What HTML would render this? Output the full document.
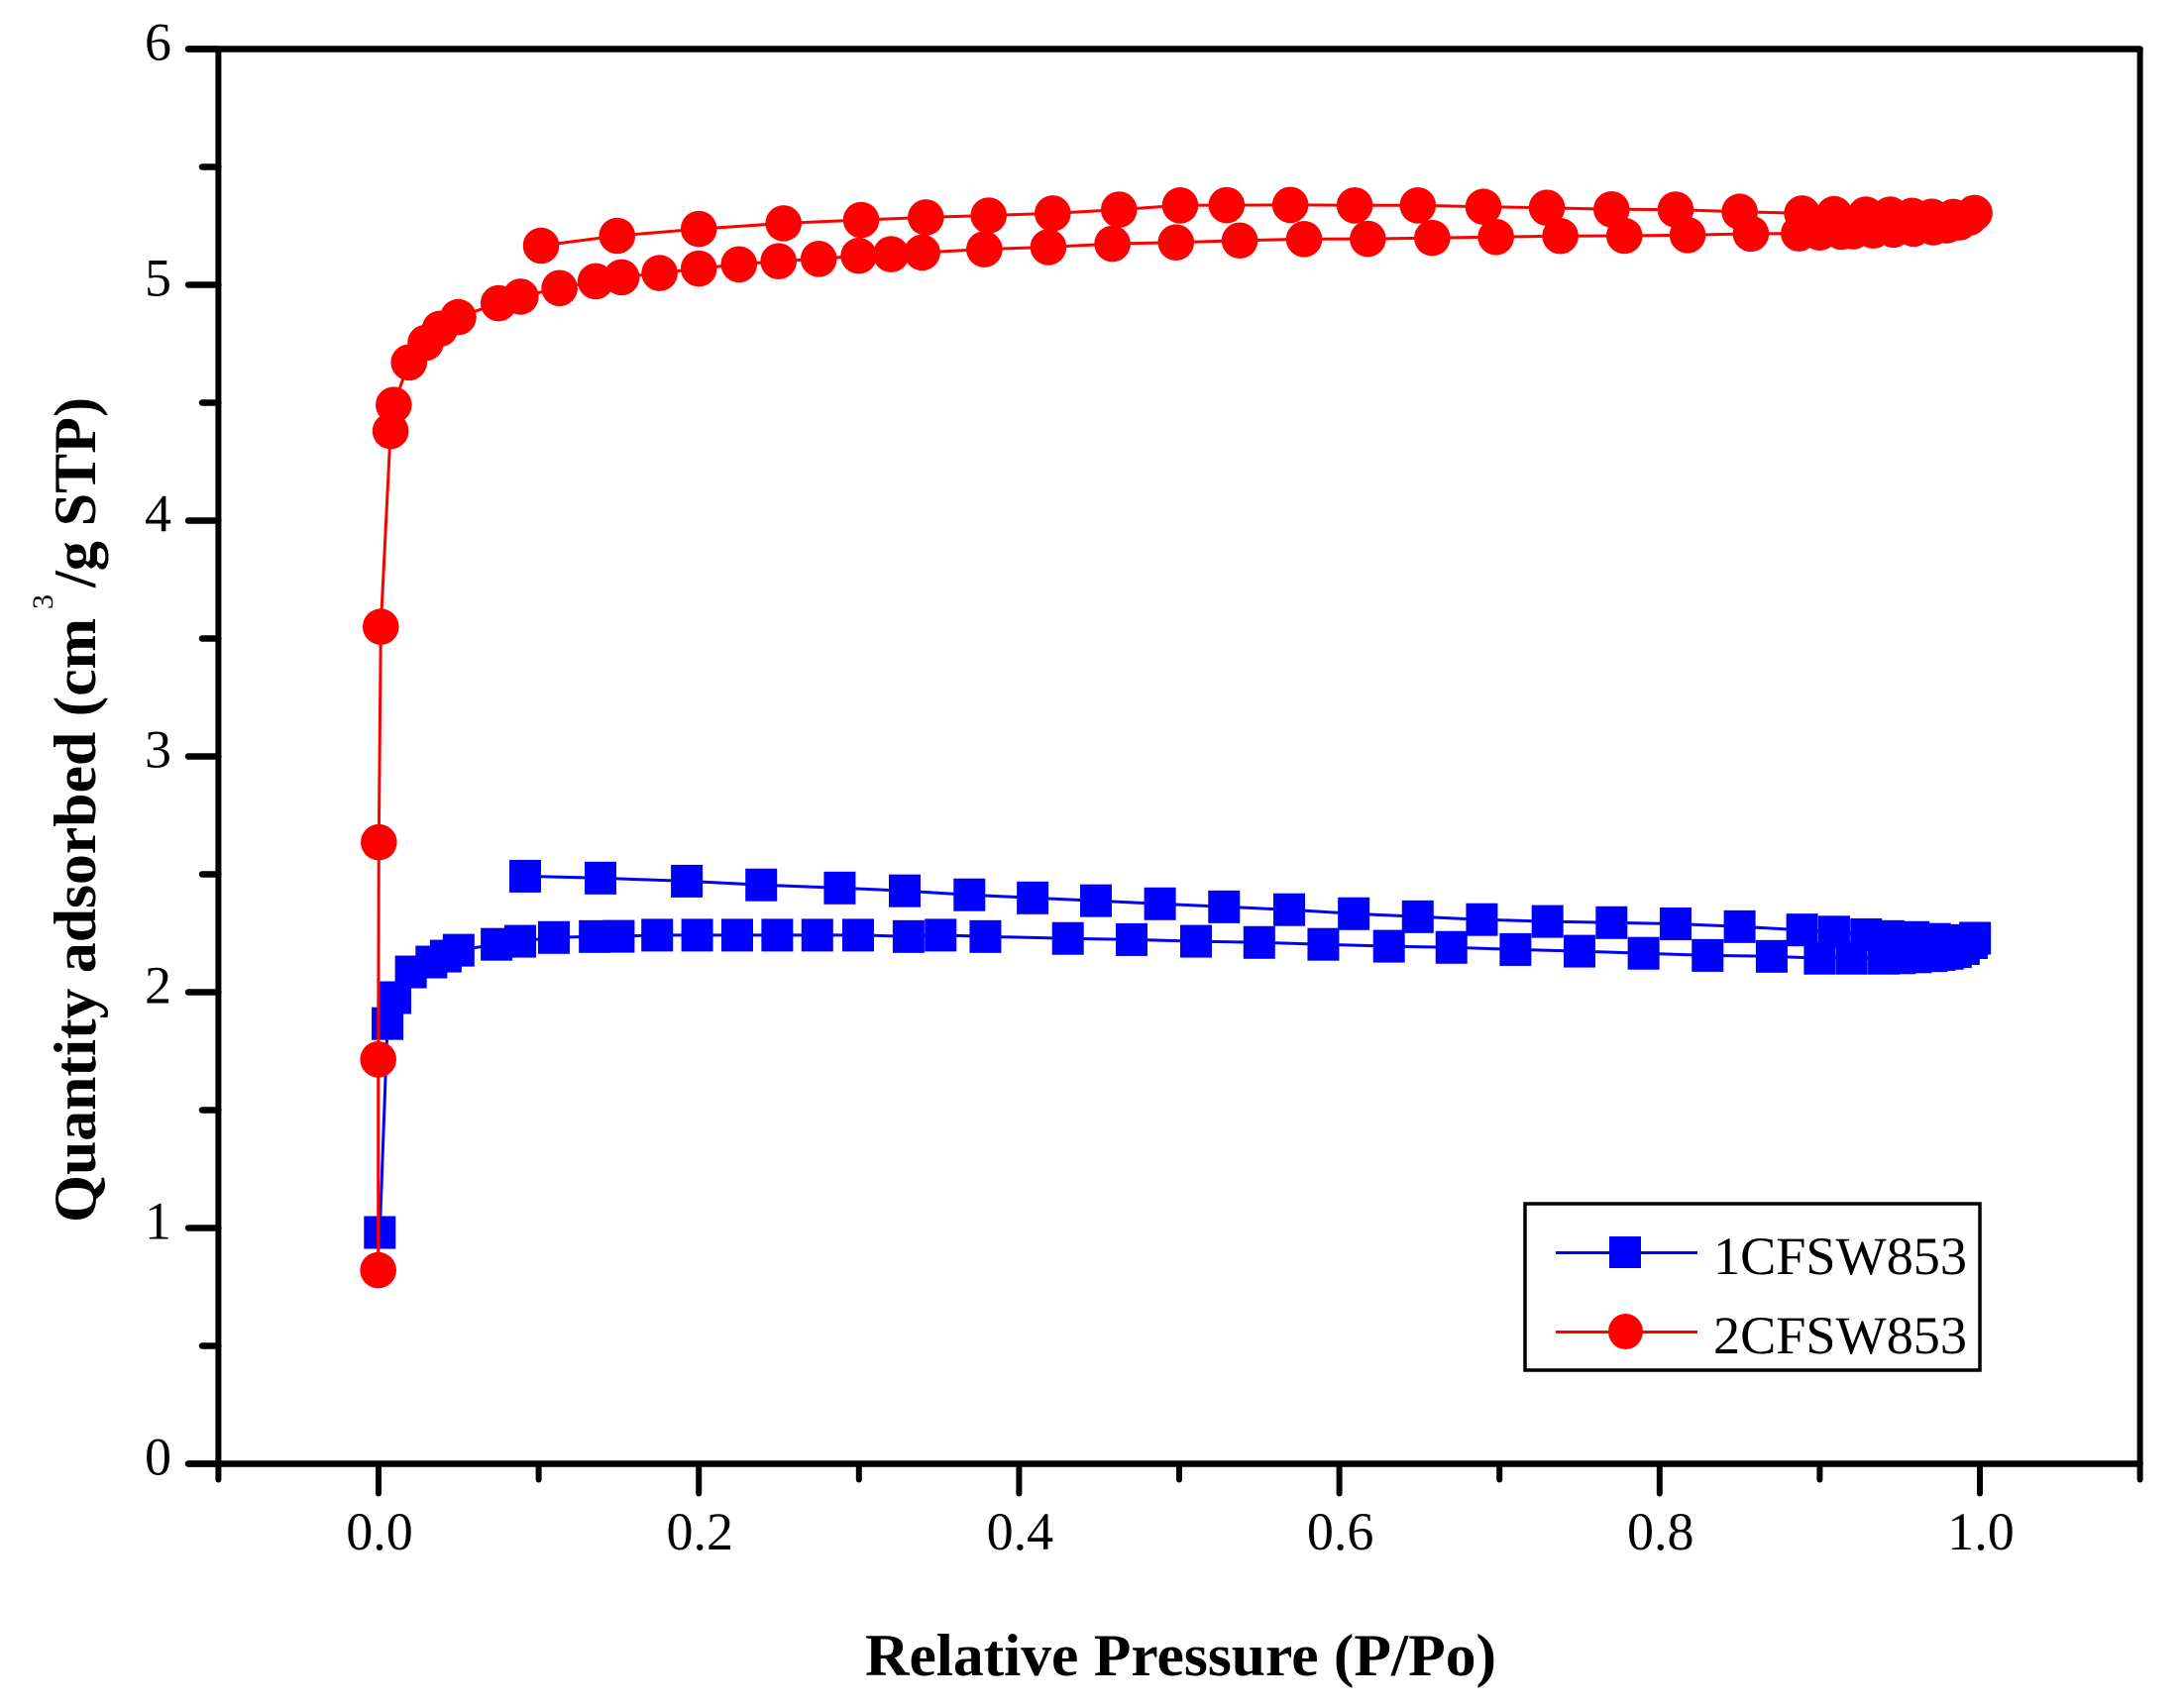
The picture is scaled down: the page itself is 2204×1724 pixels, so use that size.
<!DOCTYPE html>
<html lang="en">
<head>
<meta charset="utf-8">
<title>Quantity adsorbed vs relative pressure</title>
<style>
html,body{margin:0;padding:0;background:#fff;}
svg{display:block;font-family:"Liberation Serif",serif;}
</style>
</head>
<body>
<svg id="chart" xmlns="http://www.w3.org/2000/svg" width="2204" height="1724" viewBox="0 0 2204 1724">
  <rect x="0" y="0" width="2204" height="1724" fill="#fff"/>
  <g id="series-layer"></g>
  <g id="axis-layer"></g>
  <text x="873" y="1691" font-size="60" font-weight="bold" textLength="637" lengthAdjust="spacingAndGlyphs">Relative Pressure (P/Po)</text>
  <g font-weight="bold">
    <text transform="translate(96,1234) rotate(-90)" font-size="60" textLength="610" lengthAdjust="spacingAndGlyphs">Quantity adsorbed (cm</text>
    <text transform="translate(53,615) rotate(-90)" font-size="30" font-weight="normal">3</text>
    <text transform="translate(96,593) rotate(-90)" font-size="60" textLength="192" lengthAdjust="spacingAndGlyphs">/g STP)</text>
  </g>
  <g>
    <rect x="1539" y="1215" width="459" height="168" fill="#fff" stroke="#000" stroke-width="3.5"/>
    <g>
      <line x1="1570" y1="1264.5" x2="1713" y2="1264.5" stroke="#00f" stroke-width="3"/>
      <rect x="1624" y="1248" width="32" height="32" fill="#00f"/>
      <text x="1729" y="1286" font-size="54" textLength="256" lengthAdjust="spacingAndGlyphs">1CFSW853</text>
    </g>
    <g>
      <line x1="1570" y1="1344.5" x2="1713" y2="1344.5" stroke="#f00" stroke-width="3"/>
      <ellipse cx="1640.5" cy="1344" rx="17.5" ry="18" fill="#f00"/>
      <text x="1729" y="1366" font-size="54" textLength="256" lengthAdjust="spacingAndGlyphs">2CFSW853</text>
    </g>
  </g>
</svg>
<script>
const xMajorTicks = [0, 0.2, 0.4, 0.6, 0.8, 1.0];
const xMinorTicks = [-0.1, 0.1, 0.3, 0.5, 0.7, 0.9, 1.1];
const xTickLabels = ["0.0", "0.2", "0.4", "0.6", "0.8", "1.0"];
const yMajorTicks = [0, 1, 2, 3, 4, 5, 6];
const yMinorTicks = [0.5, 1.5, 2.5, 3.5, 4.5, 5.5];
const yTickLabels = ["0", "1", "2", "3", "4", "5", "6"];

const pressure1 = [0.0008,0.0056,0.0105,0.0202,0.033,0.042,0.05,0.0737,0.0885,0.1095,0.135,0.15,0.174,0.199,0.224,0.249,0.274,0.2995,0.331,0.351,0.379,0.4305,0.4703,0.5105,0.55,0.59,0.631,0.67,0.71,0.75,0.79,0.83,0.87,0.90,0.92,0.94,0.95,0.96,0.97,0.975,0.98,0.985,0.99,0.995,0.997,0.982,0.972,0.9586,0.943,0.929,0.909,0.889,0.85,0.81,0.77,0.73,0.689,0.649,0.609,0.5687,0.528,0.488,0.448,0.4085,0.369,0.3286,0.288,0.239,0.1925,0.1386,0.0916];
const quantity1 = [0.981,1.867,1.977,2.086,2.128,2.153,2.178,2.203,2.216,2.232,2.236,2.237,2.242,2.242,2.242,2.242,2.242,2.242,2.236,2.242,2.236,2.228,2.223,2.216,2.211,2.203,2.195,2.19,2.181,2.174,2.165,2.156,2.152,2.144,2.144,2.144,2.146,2.15,2.155,2.16,2.165,2.172,2.185,2.21,2.229,2.219,2.224,2.232,2.236,2.244,2.255,2.264,2.278,2.29,2.295,2.30,2.308,2.32,2.333,2.35,2.362,2.375,2.388,2.40,2.413,2.43,2.442,2.455,2.471,2.484,2.492];

const pressure2 = [-0.0002,-0.0002,0.0002,0.0014,0.0075,0.0095,0.019,0.0294,0.0384,0.0498,0.075,0.0887,0.113,0.1356,0.1517,0.1755,0.2,0.2251,0.2498,0.2749,0.2999,0.3201,0.3395,0.3783,0.4183,0.4583,0.498,0.5378,0.578,0.6178,0.658,0.6978,0.738,0.778,0.8175,0.857,0.887,0.90,0.9135,0.921,0.9335,0.946,0.9586,0.971,0.9793,0.9873,0.9933,0.9966,0.9834,0.97,0.9577,0.944,0.9288,0.909,0.889,0.85,0.81,0.77,0.7296,0.69,0.649,0.6096,0.5694,0.5296,0.5006,0.4624,0.421,0.381,0.3418,0.3014,0.2529,0.2,0.149,0.1015];
const quantity2 = [0.821,1.715,2.636,3.55,4.38,4.491,4.671,4.754,4.814,4.863,4.922,4.95,4.986,5.015,5.032,5.05,5.069,5.087,5.10,5.11,5.123,5.13,5.137,5.151,5.16,5.174,5.18,5.188,5.194,5.195,5.199,5.203,5.207,5.208,5.211,5.217,5.218,5.222,5.225,5.227,5.23,5.234,5.238,5.244,5.252,5.265,5.285,5.305,5.288,5.289,5.293,5.298,5.298,5.30,5.303,5.31,5.319,5.32,5.327,5.331,5.337,5.337,5.339,5.338,5.337,5.319,5.303,5.294,5.286,5.275,5.261,5.237,5.208,5.166];

const SVG_NS = "http://www.w3.org/2000/svg";
function xScale(v) { return 382 + 1616 * v; }
function yScale(v) { return 1477.5 - 238 * v; }

function make(tag, attrs, parent) {
  const el = document.createElementNS(SVG_NS, tag);
  Object.keys(attrs).forEach(function (k) { el.setAttribute(k, attrs[k]); });
  parent.appendChild(el);
  return el;
}

const axisLayer = document.getElementById("axis-layer");
const seriesLayer = document.getElementById("series-layer");

function axisLine(x1, y1, x2, y2, width, name) {
  const el = make("line", { x1: x1, y1: y1, x2: x2, y2: y2, stroke: "#000", "stroke-width": width, "stroke-linecap": "round" }, axisLayer);
  
  
}

const xLeft = xScale(-0.1);
const xRight = xScale(1.1);
const yTop = yScale(6);
const yBottom = yScale(0);

axisLine(xLeft, yTop, xLeft, yBottom, 6, "left-axis-line");
axisLine(xRight, yTop, xRight, yBottom, 6, "right-axis-line");
axisLine(190, yTop, xRight, yTop, 6.5, "top-axis-line");
axisLine(190, yBottom, xRight, yBottom, 6.5, "bottom-axis-line");

xMajorTicks.forEach(function (v, i) {
  axisLine(xScale(v), yBottom, xScale(v), yBottom + 30, 6, "x-major-tick");
  const label = make("text", { x: xScale(v) + 1, y: 1564, "font-size": 54, "text-anchor": "middle" }, axisLayer);
  
  
  label.textContent = xTickLabels[i];
});
xMinorTicks.forEach(function (v) {
  axisLine(xScale(v), yBottom, xScale(v), yBottom + 16, 6, "x-minor-tick");
});
yMajorTicks.forEach(function (v, i) {
  axisLine(190, yScale(v), xLeft, yScale(v), 6.5, "y-major-tick");
  const label = make("text", { x: 173, y: yScale(v) + 11, "font-size": 54, "text-anchor": "end" }, axisLayer);
  
  
  label.textContent = yTickLabels[i];
});
yMinorTicks.forEach(function (v) {
  axisLine(204, yScale(v), xLeft, yScale(v), 6.5, "y-minor-tick");
});

function drawLine(px, qy, color, name, group) {
  const pts = px.map(function (p, i) { return xScale(p).toFixed(1) + "," + yScale(qy[i]).toFixed(1); }).join(" ");
  const el = make("polyline", { points: pts, fill: "none", stroke: color, "stroke-width": 3, "stroke-linejoin": "round" }, group);
  
  
}

const group1 = make("g", {}, seriesLayer);


drawLine(pressure1, quantity1, "#00f", "line-1cfsw853", group1);
pressure1.forEach(function (p, i) {
  const m = make("rect", { x: xScale(p) - 16, y: yScale(quantity1[i]) - 16.5, width: 32, height: 33, fill: "#00f" }, group1);
  
  
});

const group2 = make("g", {}, seriesLayer);


drawLine(pressure2, quantity2, "#f00", "line-2cfsw853", group2);
pressure2.forEach(function (p, i) {
  const m = make("circle", { cx: xScale(p), cy: yScale(quantity2[i]), r: 18.3, fill: "#f00" }, group2);
  
  
});
</script>
</body>
</html>
